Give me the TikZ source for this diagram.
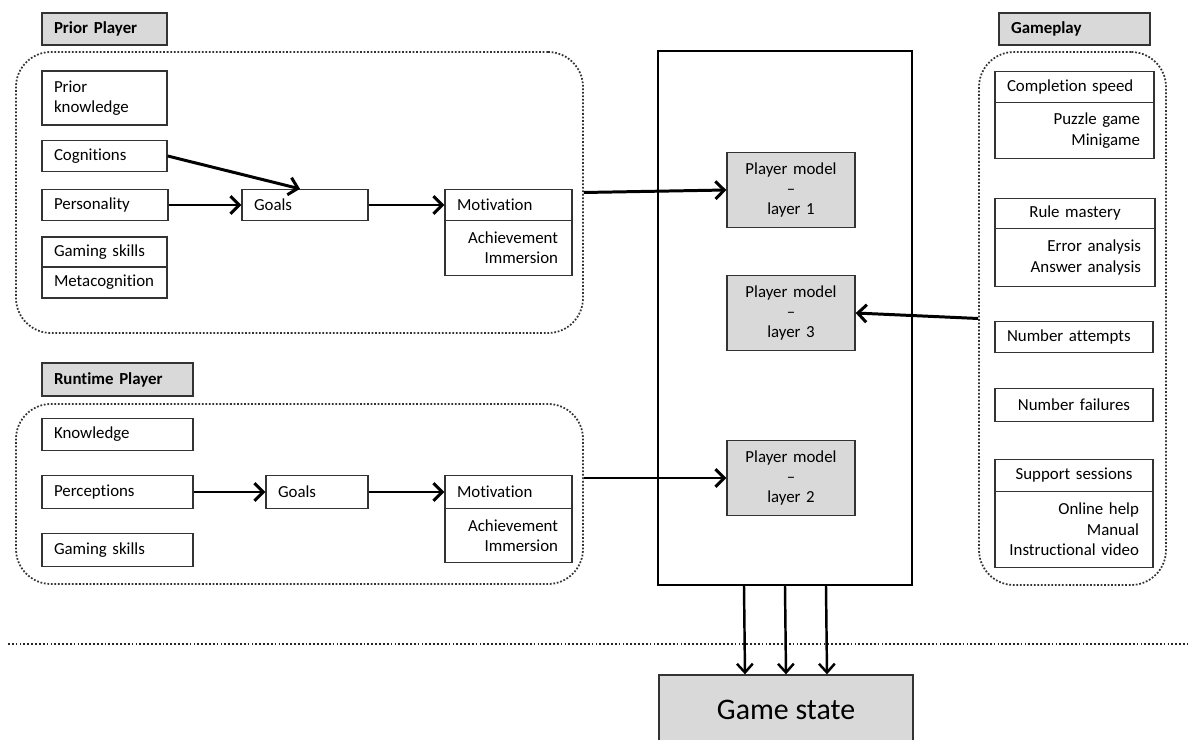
\documentclass[tikz,border=0pt]{standalone}
\usepackage{fontspec}
\setmainfont{Carlito}[Ligatures={NoCommon,NoContextual}]
\usetikzlibrary{arrows.meta}
\newdimen\px \px=0.02cm
\newcommand\boxfont{\fontsize{9.6}{11.6}\selectfont}

\begin{document}
\begin{tikzpicture}[
  x=0.02cm, y=-0.02cm,
  box/.style={draw=black!80, line width=0.75pt, fill=white, inner sep=0pt,
              font=\boxfont},
  head/.style={box, fill=black!15, font=\boxfont\bfseries},
  model/.style={box, fill=black!15, align=center},
  grp/.style={draw=black!80, line width=1pt, dash pattern=on 1pt off 1pt,
              rounded corners=0.7cm, inner sep=0pt},
  engine/.style={draw=black, line width=1.1pt, inner sep=0pt},
  sep/.style={line width=1pt, black!85, dash pattern=on 1pt off 1.2pt},
  sz/.style 2 args={minimum width=#1*\px, minimum height=#2*\px},
  lt/.style={align=left, text width=(#1-24)*\px},
  rt/.style={align=right, text width=(#1-28)*\px},
  ct/.style={align=center, text width=(#1-20)*\px},
  arr/.style={line width=1.7pt, -{Straight Barb[length=5pt, width=10pt]}},
  arrs/.style={line width=1.4pt, -{Straight Barb[length=5pt, width=9pt]}}]

\useasboundingbox (0,0) rectangle (1188,740);

% ======================= left top: prior player =========================
\node[head, sz={125}{32}, lt=125] (hprior) at (104.5,29) {Prior Player};
\node[grp, sz={567}{281}] (gprior) at (299.5,192.5) {};
\node[box, sz={125}{54}, lt=125] (pknow) at (104.5,98) {Prior\\knowledge};
\node[box, sz={125}{31}, lt=125] (cogn) at (104.5,156) {Cognitions};
\node[box, sz={126}{31}, lt=126] (pers) at (105,205) {Personality};
\node[box, sz={125}{30}, lt=125] (skill1) at (104.5,252) {Gaming skills};
\node[box, sz={125}{31}, lt=125] (meta) at (104.5,282.5) {Metacognition};
\node[box, sz={126}{31}, lt=126] (goal1) at (305,205) {Goals};
\node[box, sz={127}{31}, lt=127] (mot1) at (508.5,205) {Motivation};
\node[box, sz={127}{55}, rt=127] (ach1) at (508.5,248) {Achievement\\Immersion};
\draw[arr] (cogn.east) -- ([xshift=-5*\px]goal1.north);
\draw[arr] (pers.east) -- (goal1.west);
\draw[arr] (goal1.east) -- (mot1.west);

% ===================== left bottom: runtime player ======================
\node[head, sz={151}{33}, lt=151] (hrun) at (117.5,379.5) {Runtime Player};
\node[grp, sz={567}{180}] (grun) at (299.5,494) {};
\node[box, sz={151}{32}, lt=151] (know) at (117.5,434.5) {Knowledge};
\node[box, sz={151}{33}, lt=151] (perc) at (117.5,492) {Perceptions};
\node[box, sz={151}{33}, lt=151] (skill2) at (117.5,550) {Gaming skills};
\node[box, sz={102}{33}, lt=102] (goal2) at (317,492) {Goals};
\node[box, sz={127}{33}, lt=127] (mot2) at (508.5,492) {Motivation};
\node[box, sz={127}{54}, rt=127] (ach2) at (508.5,535.5) {Achievement\\Immersion};
\draw[arr] (perc.east) -- (goal2.west);
\draw[arr] (goal2.east) -- (mot2.west);

% ======================= middle: the player model =======================
\node[engine, sz={254}{534}] (engine) at (785,318) {};
\node[model, sz={128}{75}, ct=128] (pm1) at (791,190) {Player model\\--\\layer 1};
\node[model, sz={128}{75}, ct=128] (pm3) at (791,313) {Player model\\--\\layer 3};
\node[model, sz={128}{75}, ct=128] (pm2) at (791,478) {Player model\\--\\layer 2};
\draw[arr] (gprior.east) -- (pm1.west);
\draw[arr] (grun.east |- pm2.west) -- (pm2.west);

% =========================== right: gameplay ============================
\node[head, sz={151}{32}, lt=151] (hgame) at (1074.5,29) {Gameplay};
\node[grp, sz={187}{533}] (ggame) at (1072.5,318.5) {};
\node[box, sz={159}{31}, lt=159] (speed) at (1074.5,87) {Completion speed};
\node[box, sz={159}{56}, rt=159] (speedb) at (1074.5,130.5) {Puzzle game\\Minigame};
\node[box, sz={160}{30}, ct=160] (rule) at (1075,213.5) {Rule mastery};
\node[box, sz={160}{58}, rt=160] (ruleb) at (1075,257.5) {Error analysis\\Answer analysis};
\node[box, sz={158}{31}, lt=158] (natt) at (1074,337) {Number attempts};
\node[box, sz={158}{33}, ct=158] (nfail) at (1074,405) {Number failures};
\node[box, sz={158}{32}, ct=158] (supp) at (1074,475.5) {Support sessions};
\node[box, sz={158}{76}, rt=158] (suppb) at (1074,529.5)
  {Online help\\Manual\\Instructional video};
\draw[arr] (ggame.west) -- (pm3.east);

% ============================ bottom: game state =========================
\draw[sep] (8,644) -- (1188,644);
\node[model, sz={254}{70}, font=\fontsize{17}{20}\selectfont] (gstate)
  at (786,710) {Game state};
\foreach \dx in {-41,0,41}
  \draw[arrs] ([xshift=\dx*\px]engine.south) -- ([xshift=\dx*\px]gstate.north);

\end{tikzpicture}
\end{document}
